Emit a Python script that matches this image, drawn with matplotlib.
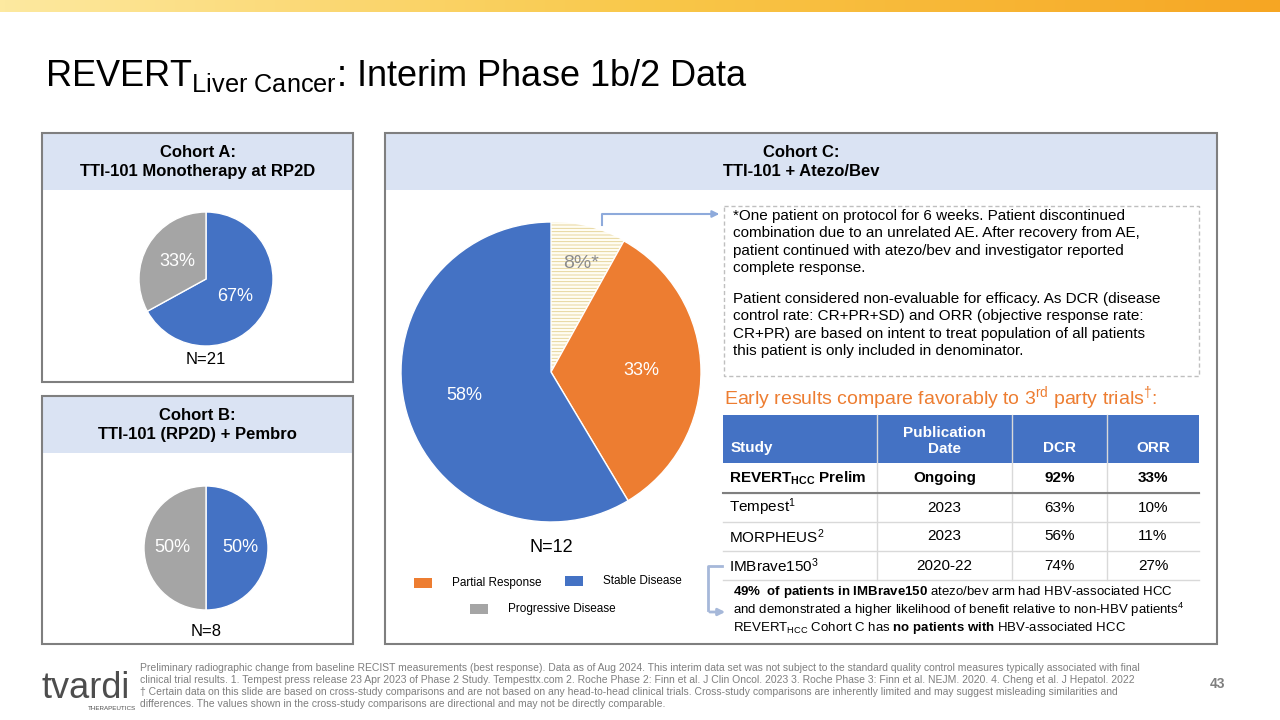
import numpy as np
import matplotlib
matplotlib.use("Agg")
import matplotlib.pyplot as plt
from matplotlib.patches import Rectangle

plt.rcParams['font.family'] = ['Liberation Sans', 'DejaVu Sans']
plt.rcParams['mathtext.fontset'] = 'custom'
plt.rcParams['mathtext.rm'] = 'Liberation Sans'
plt.rcParams['mathtext.it'] = 'Liberation Sans:italic'
plt.rcParams['mathtext.bf'] = 'Liberation Sans:bold'
plt.rcParams['hatch.linewidth'] = 0.6

BLUE = '#4472c4'
ORANGE = '#ed7d31'
GRAY = '#a5a5a5'
HEAD = '#dae3f3'
EDGE = '#7f7f7f'

# data
cohort_a = [67, 33]
cohort_b = [50, 50]
cohort_c = [8, 33, 58]
cohort_c_labels = ['8%*', '33%', '58%']
n_a, n_b, n_c = 21, 8, 12

table_cols = ['Study', 'Publication\nDate', 'DCR', 'ORR']
studies = [r'$\mathbf{REVERT}_{\mathbf{HCC}}\ \mathbf{Prelim}$', 'Tempest$^{\mathregular{1}}$',
           'MORPHEUS$^{\mathregular{2}}$', 'IMBrave150$^{\mathregular{3}}$']
pub_dates = ['Ongoing', '2023', '2023', '2020-22']
dcr = ['92%', '63%', '56%', '74%']
orr = ['33%', '10%', '11%', '27%']

fig = plt.figure(figsize=(12.8, 7.2), dpi=100)
bg = fig.add_axes([0, 0, 1, 1])

# top gradient band
grad = np.linspace(0, 1, 256)[None, :]
cm = matplotlib.colors.LinearSegmentedColormap.from_list('g', ['#fde9a0', '#f9c84a', '#f6a623'])
bg.imshow(grad, extent=(0, 1280, 12, 0), cmap=cm, aspect='auto')
bg.set_xlim(0, 1280)
bg.set_ylim(720, 0)
bg.axis('off')

bg.text(45, 76, r'REVERT$_{\mathregular{Liver\ Cancer}}$: Interim Phase 1b/2 Data', fontsize=26, va='center')

def panel(x0, y0, x1, y1, title):
    bg.add_patch(Rectangle((x0, y0), x1 - x0, 57, fc=HEAD, ec='none'))
    bg.add_patch(Rectangle((x0, y0), x1 - x0, y1 - y0, fc='none', ec=EDGE, lw=1.5))
    bg.text((x0 + x1) / 2, y0 + 29, title, ha='center', va='center', fontsize=12,
            fontweight='bold', linespacing=1.3)

panel(42, 133, 353, 382, 'Cohort A:\nTTI-101 Monotherapy at RP2D')
panel(42, 396, 353, 644, 'Cohort B:\nTTI-101 (RP2D) + Pembro')
panel(385, 133, 1217, 644, 'Cohort C:\nTTI-101 + Atezo/Bev')

def pie_ax(cx, cy, r):
    a = fig.add_axes([(cx - r) / 1280, 1 - (cy + r) / 720, 2 * r / 1280, 2 * r / 720])
    a.patch.set_visible(False)
    return a

def fix(a):
    a.set_xlim(-1, 1)
    a.set_ylim(-1, 1)

ax = pie_ax(206, 279, 67)
ax.pie(cohort_a, colors=[BLUE, GRAY], startangle=90, counterclock=False,
       wedgeprops=dict(ec='white', lw=1), labels=['%d%%' % v for v in cohort_a],
       labeldistance=0.5, textprops=dict(color='white', fontsize=13, ha='center', va='center'))
fix(ax)
bg.text(206, 360, 'N=%d' % n_a, ha='center', va='center', fontsize=12)

ax = pie_ax(206, 548, 62)
ax.pie(cohort_b, colors=[BLUE, GRAY], startangle=90, counterclock=False,
       wedgeprops=dict(ec='white', lw=1), labels=['%d%%' % v for v in cohort_b],
       labeldistance=0.55, textprops=dict(color='white', fontsize=13, ha='center', va='center'))
fix(ax)
bg.text(206, 631, 'N=%d' % n_b, ha='center', va='center', fontsize=12)

ax = pie_ax(551, 372, 150)
wedges, texts = ax.pie(cohort_c, colors=['#fffdf3', ORANGE, BLUE], startangle=90, counterclock=False,
                       wedgeprops=dict(ec='white', lw=1), labels=cohort_c_labels,
                       labeldistance=0.6, textprops=dict(color='white', fontsize=13, ha='center', va='center'))
fix(ax)
wedges[0].set_hatch('-----')
wedges[0].set_edgecolor('#e3cf8f')
wedges[0].set_linewidth(0)
texts[0].set_color('#8c8c8c')
texts[0].set_position((0.2, 0.72))
texts[0].set_fontsize(14)
bg.text(551, 548, 'N=%d' % n_c, ha='center', va='center', fontsize=13)

# legend
for x, y, c, lab in [(414, 583, ORANGE, 'Partial Response'), (565, 581, BLUE, 'Stable Disease'),
                     (470, 609, GRAY, 'Progressive Disease')]:
    bg.add_patch(Rectangle((x, y - 5), 18, 10, fc=c, ec='none'))
    bg.text(x + 38, y, lab, va='center', fontsize=8.5)

# footnote box
bg.add_patch(Rectangle((724, 206), 475, 170, fc='none', ec='#bfbfbf', lw=1, ls=(0, (3, 2))))
bg.text(733, 209, '*One patient on protocol for 6 weeks. Patient discontinued\n'
        'combination due to an unrelated AE. After recovery from AE,\n'
        'patient continued with atezo/bev and investigator reported\ncomplete response.',
        va='top', fontsize=11, linespacing=1.3)
bg.text(733, 292, 'Patient considered non-evaluable for efficacy. As DCR (disease\n'
        'control rate: CR+PR+SD) and ORR (objective response rate:\n'
        'CR+PR) are based on intent to treat population of all patients\n'
        'this patient is only included in denominator.',
        va='top', fontsize=11, linespacing=1.3)
bg.plot([602, 602, 715], [225, 214, 214], color='#8eaadb', lw=1.5)
bg.annotate('', xy=(722, 214), xytext=(712, 214),
            arrowprops=dict(arrowstyle='-|>', color='#8eaadb', lw=1.5))

bg.text(724, 398, r'Early results compare favorably to 3$^{\mathregular{rd}}$ party trials$^{\dagger}$:',
        color=ORANGE, fontsize=14, va='center')

# table
xs = [723, 877, 1012, 1107, 1199]
ys = [415, 463, 493, 522, 551, 580]
bg.add_patch(Rectangle((xs[0], ys[0]), xs[-1] - xs[0], ys[1] - ys[0], fc=BLUE, ec='none'))
for j, h in enumerate(table_cols):
    xc = (xs[j] + xs[j + 1]) / 2 if j else xs[0] + 8
    bg.text(xc, ys[1] - 8 if j != 1 else (ys[0] + ys[1]) / 2 + 2, h, color='white', fontweight='bold',
            fontsize=11, ha='center' if j else 'left', va='bottom' if j != 1 else 'center',
            linespacing=1.1)
for x in xs[1:-1]:
    bg.plot([x, x], [ys[0], ys[-1]], color='#d9d9d9', lw=1)
for i in range(4):
    yc = (ys[i + 1] + ys[i + 2]) / 2
    fw = 'bold' if i == 0 else 'normal'
    bg.text(xs[0] + 6, yc, studies[i], va='center', fontsize=11, fontweight=fw)
    for j, v in enumerate([pub_dates[i], dcr[i], orr[i]]):
        bg.text((xs[j + 1] + xs[j + 2]) / 2, yc, v, ha='center', va='center', fontsize=11, fontweight=fw)
    bg.plot([xs[0], xs[-1]], [ys[i + 2], ys[i + 2]], color='#d9d9d9', lw=1)
bg.plot([xs[0], xs[-1]], [ys[2], ys[2]], color='#7f7f7f', lw=1.5)

bg.plot([722, 708, 708], [566, 566, 610], color='#a6b8d9', lw=2)
bg.annotate('', xy=(728, 612), xytext=(707, 612),
            arrowprops=dict(arrowstyle='-|>', color='#a6b8d9', lw=2))
bg.text(733, 592, r'$\mathbf{49\%\ \ of\ patients\ in\ IMBrave150}$ atezo/bev arm had HBV-associated HCC',
        fontsize=9.5, va='center')
bg.text(733, 610, 'and demonstrated a higher likelihood of benefit relative to non-HBV patients$^{4}$',
        fontsize=9.5, va='center')
bg.text(733, 628, r'REVERT$_{\mathregular{HCC}}$ Cohort C has $\mathbf{no\ patients\ with}$ HBV-associated HCC',
        fontsize=9.5, va='center')

# logo and footer
bg.text(42, 688, 'tvardi', fontsize=26, color='#4d4d4d', va='center')
bg.text(88, 708, 'THERAPEUTICS', fontsize=4.5, color='#4d4d4d', va='center')
bg.text(140, 686, 'Preliminary radiographic change from baseline RECIST measurements (best response). Data as of Aug 2024. '
        'This interim data set was not subject to the standard quality control measures typically associated with final\n'
        'clinical trial results. 1. Tempest press release 23 Apr 2023 of Phase 2 Study. Tempesttx.com 2. Roche Phase 2: '
        'Finn et al. J Clin Oncol. 2023 3. Roche Phase 3: Finn et al. NEJM. 2020. 4. Cheng et al. J Hepatol. 2022\n'
        '\u2020 Certain data on this slide are based on cross-study comparisons and are not based on any head-to-head clinical trials. '
        'Cross-study comparisons are inherently limited and may suggest misleading similarities and\n'
        'differences. The values shown in the cross-study comparisons are directional and may not be directly comparable.',
        fontsize=7.5, color='#7f7f7f', va='center', linespacing=1.25)
bg.text(1217, 684, '43', fontsize=10, color='#7f7f7f', fontweight='bold', ha='center', va='center')

fig.savefig('out.png', dpi=100)
